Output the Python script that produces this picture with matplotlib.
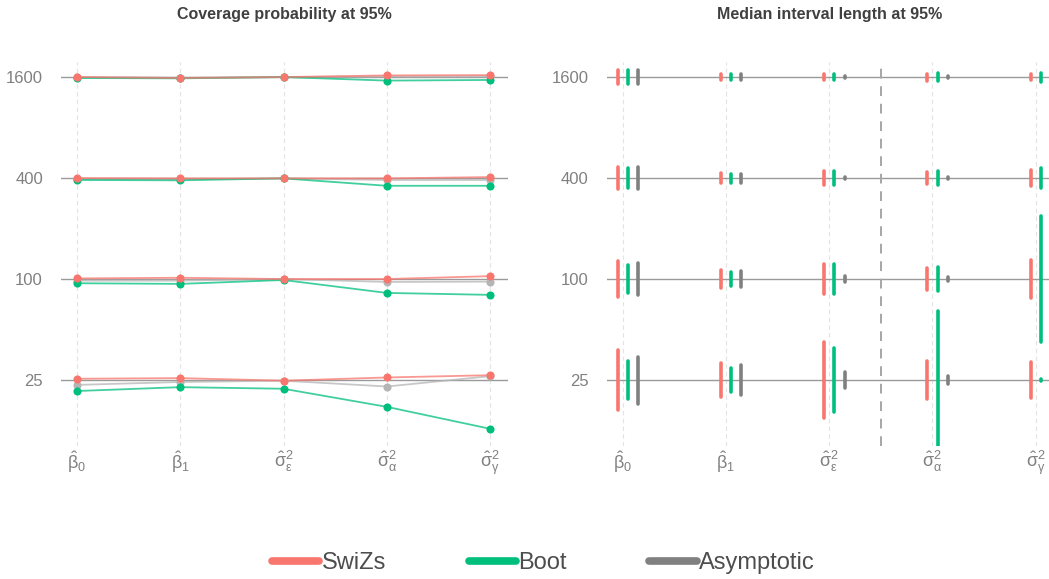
import numpy as np
import matplotlib
matplotlib.use("Agg")
import matplotlib.pyplot as plt
from matplotlib.lines import Line2D

plt.rcParams['font.family'] = ['Liberation Sans', 'DejaVu Sans']
plt.rcParams['mathtext.fontset'] = 'dejavusans'
plt.rcParams['mathtext.default'] = 'regular'

# ---- data ----
methods = ['SwiZs', 'Boot', 'Asymptotic']
colors = ['#F8766D', '#00BF7D', '#808080']
params = [r'$\hat{\beta}_0$', r'$\hat{\beta}_1$', r'$\hat{\sigma}^2_\varepsilon$',
          r'$\hat{\sigma}^2_\alpha$', r'$\hat{\sigma}^2_\gamma$']
sample_sizes = ['25', '100', '400', '1600']

# coverage (%) rows: n = 25, 100, 400, 1600
cov_swizs = [[95.4, 95.6, 94.8, 95.8, 96.5],
             [95.2, 95.4, 95.0, 95.0, 95.9],
             [95.0, 94.9, 94.9, 94.9, 95.3],
             [95.0, 94.7, 95.0, 95.5, 95.6]]
cov_boot = [[91.6, 92.8, 92.3, 86.7, 79.9],
            [93.7, 93.5, 94.7, 90.7, 90.1],
            [94.4, 94.3, 94.9, 92.6, 92.6],
            [94.7, 94.6, 95.0, 93.9, 94.1]]
cov_asym = [[93.5, 94.4, 94.8, 93.0, 96.2],
            [94.5, 94.5, 95.0, 94.1, 94.2],
            [94.7, 94.6, 94.9, 94.4, 94.4],
            [95.0, 94.8, 95.0, 95.2, 95.2]]

# median interval length (scaled), rows: n = 25, 100, 400, 1600
len_swizs = [[0.59, 0.34, 0.75, 0.38, 0.36],
             [0.35, 0.17, 0.30, 0.21, 0.38],
             [0.22, 0.10, 0.14, 0.125, 0.16],
             [0.14, 0.06, 0.06, 0.07, 0.06]]
len_boot = [[0.38, 0.24, 0.64, 1.37, 0.0],
            [0.28, 0.14, 0.30, 0.23, 1.25],
            [0.20, 0.09, 0.145, 0.13, 0.20],
            [0.14, 0.06, 0.06, 0.08, 0.09]]
len_asym = [[0.465, 0.30, 0.155, 0.08, np.nan],
            [0.31, 0.16, 0.065, 0.035, np.nan],
            [0.21, 0.09, 0.025, 0.02, np.nan],
            [0.14, 0.06, 0.0, 0.0, np.nan]]

coverages = [cov_swizs, cov_boot, cov_asym]
lengths = [len_swizs, len_boot, len_asym]

# ---- figure ----
W, H = 1049, 579
fig = plt.figure(figsize=(W / 100, H / 100), dpi=100)
ax1 = fig.add_axes([61 / W, (H - 446) / H, 447 / W, 384 / H])
ax2 = fig.add_axes([606.7 / W, (H - 446) / H, 447 / W, 384 / H])

x = np.arange(1, 6)
levels = np.arange(1, 5)
k = 1 / 31.3  # level units per coverage percentage point

for ax in (ax1, ax2):
    ax.set_xlim(0.845, 5.174)
    ax.set_ylim(0.347, 4.149)
    for s in ax.spines.values():
        s.set_visible(False)
    for xi in x:
        ax.axvline(xi, color='#e3e3e3', lw=0.8, ls=(0, (4, 3)), zorder=0)
    for lv in levels:
        ax.axhline(lv, color='#9a9a9a', lw=1.0, zorder=1)
    ax.set_xticks(x)
    ax.set_xticklabels(params, fontsize=13, color='#808080')
    ax.set_yticks(levels)
    ax.set_yticklabels(sample_sizes, fontsize=12, color='#808080')
    ax.tick_params(length=0)
    ax.tick_params(axis='y', pad=13)
    ax.tick_params(axis='x', pad=2)

# left panel: coverage lines and points
for m in [2, 1, 0]:
    cov = np.array(coverages[m])
    col = colors[m] if m != 2 else '#b5b5b5'
    for i, lv in enumerate(levels):
        y = lv + (cov[i] - 95) * k
        ax1.plot(x, y, color=col, lw=1.3, alpha=0.75, zorder=2 + (2 - m))
        ax1.scatter(x, y, s=34, color=col, zorder=5 + (2 - m), linewidths=0)

# right panel: interval segments
offsets = [-0.05, 0.05, 0.15]
for m in range(3):
    L = np.array(lengths[m])
    for i, lv in enumerate(levels):
        ok = ~np.isnan(L[i])
        half = np.maximum(L[i][ok] / 2, 0.012)
        lc = ax2.vlines(x[ok] + offsets[m], lv - half, lv + half,
                        color=colors[m], lw=2.6, zorder=3)
        lc.set_capstyle('round')
ax2.axvline(3.5, color='#a6a6a6', lw=1.4, ls=(0, (5, 4)), zorder=2)

# titles
fig.text(284 / W, 1 - 15 / H, 'Coverage probability at 95%', ha='center', va='center',
         fontsize=11.5, fontweight='bold', color='#404040')
fig.text(830 / W, 1 - 15 / H, 'Median interval length at 95%', ha='center', va='center',
         fontsize=11.5, fontweight='bold', color='#404040')

# legend
handles = [Line2D([0], [0], color=c, lw=5.5, solid_capstyle='round') for c in colors]
fig.legend(handles, methods, loc='center', bbox_to_anchor=(0.518, 16 / H), ncol=3,
           frameon=False, fontsize=17, handlelength=2.0, handletextpad=0.1,
           columnspacing=3.5, labelcolor='#4d4d4d')

fig.savefig('out.png', dpi=100)
